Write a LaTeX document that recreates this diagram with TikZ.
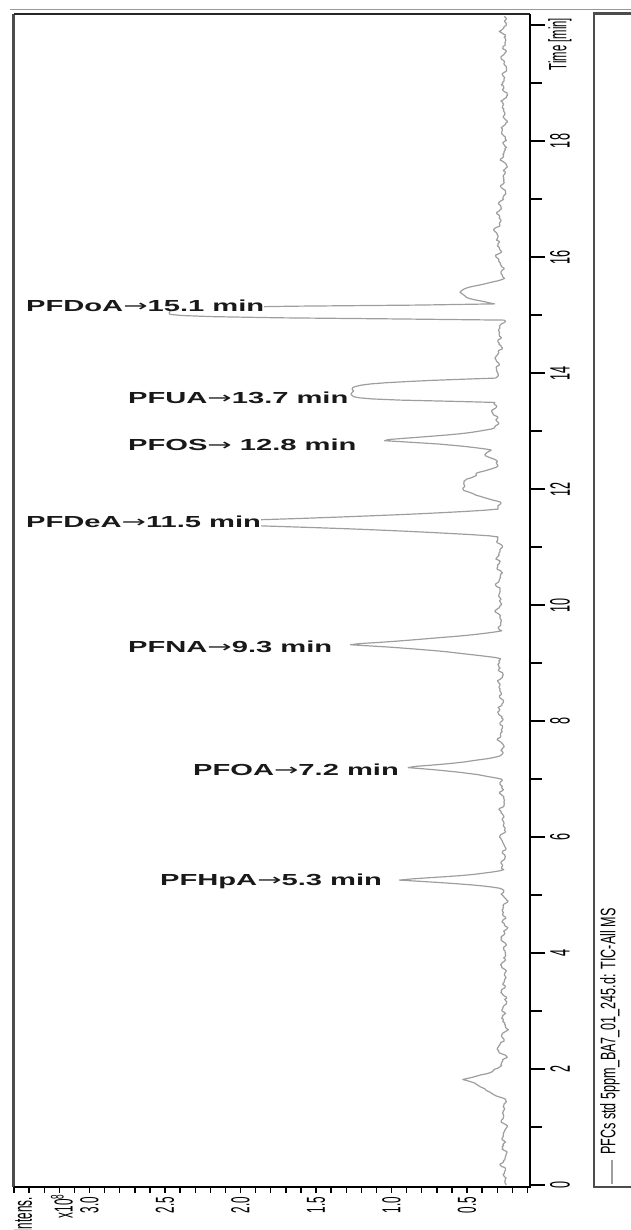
\documentclass[tikz,border=0pt]{standalone}
\usepackage{fontspec}
\setmainfont{Liberation Sans}
\newfontfamily\peakfont[FakeStretch=1.82]{Liberation Sans Bold}
\newfontfamily\arrowfont[FakeStretch=1.82]{DejaVu Sans}
\newfontfamily\axisfont[FakeStretch=0.45]{Liberation Sans}
\newfontfamily\legendfont[FakeStretch=0.6]{Liberation Sans}
\usetikzlibrary{positioning}

\newcommand{\rarr}{{\arrowfont →}}

\tikzset{
  plotframe/.style={line width=2pt, black!85},
  tickmark/.style={line width=1.4pt, black},
  timelbl/.style={rotate=90, inner sep=0pt, font=\axisfont\fontsize{28}{28}\selectfont},
  intlbl/.style={rotate=90, inner sep=0pt, font=\axisfont\fontsize{26}{26}\selectfont},
  peaklbl/.style={anchor=base west, inner sep=0pt, fill=white, text=black!90,
    font=\peakfont\fontsize{16}{16}\selectfont},
  trace/.style={draw=black!38, line width=1.2pt, line join=round},
}

\begin{document}
\begin{tikzpicture}[x=1pt, y=-1pt,
  declare function={
    nd(\s,\pos,\wl,\wr)=max((\pos-\s)/\wl,(\s-\pos)/\wr);
    sharp(\s,\pos,\wl,\wr,\amp)=\amp*max(0,1-nd(\s,\pos,\wl,\wr))*(1+max(0,1-nd(\s,\pos,\wl,\wr)))/2;
    blunt(\s,\pos,\wl,\wr,\amp)=\amp*max(0,1-min(nd(\s,\pos,\wl,\wr),1.5)^4);
    hump(\s,\pos,\wl,\amp)=\amp*(max(0,1-min(abs(\s-\pos)/\wl,1.5)^2))^2;
    noise(\s)=1.5*sin(360*mod(2.3*\s,1))+1.3*sin(360*mod(4.1*\s,1)+70)+1.0*sin(360*mod(6.7*\s,1)+150)+0.6*sin(360*mod(10.9*\s,1)+20)+0.7*rand;
  }]
\pgfmathsetseed{7}
\useasboundingbox (0,0) rectangle (631,1230);

% window edge and legend box
\draw[line width=1.5pt, black!40] (10,9.5) -- (631,9.5);
\draw[line width=2.5pt, black!70] (640,13.5) -- (594,13.5) -- (594,1187) -- (640,1187);

% plot frame
\coordinate (tl) at (13.5,14);
\coordinate (bl) at (13.5,1187);
\coordinate (br) at (530,1187);
\coordinate (tr) at (530,14);
\draw[line width=3pt, black!70] (tl) -- (bl);
\draw[plotframe] (tl) -- (tr);
\draw[plotframe, black] (bl) -- (br) -- (tr);

% time axis (right)
\foreach \m in {0,2,...,20}
  \draw[tickmark] (530,{1185-58*\m}) -- ++(15,0);
\foreach \m in {1,3,...,19}
  \draw[tickmark] (530,{1185-58*\m}) -- ++(12,0);
\foreach \m in {0,2,...,18}
  \node[timelbl] (t\m) at (560,{1185-58*\m}) {\m};
\node[timelbl, font=\axisfont\fontsize{25}{25}\selectfont] (taxis) at (560,44) {Time [min]};

% intensity axis (bottom)
\foreach \v in {1,...,35}
  \draw[tickmark] ({467-(\v/10-0.5)*151},1187) -- ++(0,6);
\foreach \v in {0.5,1.0,1.5,2.0,2.5,3.0}
  \node[intlbl] at ({467-(\v-0.5)*151},1205) {\v};
\node[intlbl, anchor=east] (intens) at (23,1197) {Intens.};
\node[intlbl, anchor=east] (scale) at (62,1194) {x10\textsuperscript{8}};

% chromatogram
\draw[trace] plot[domain=0:20.16, samples=1009, variable=\s]
  ({504+noise(\s)
    -hump(\s,11,6.5,5)-hump(\s,13.5,1.8,5)-hump(\s,16.4,0.9,6)
    -sharp(\s,1.82,0.38,0.25,41)-hump(\s,2.35,0.15,7)
    -sharp(\s,5.26,0.15,0.17,107)
    -sharp(\s,7.2,0.21,0.2,94)
    -sharp(\s,9.32,0.24,0.23,155)
    -sharp(\s,11.42,0.24,0.23,349)
    -hump(\s,12.0,0.25,35)-hump(\s,12.22,0.18,25)-hump(\s,12.62,0.15,10)
    -sharp(\s,12.84,0.17,0.2,118)
    -blunt(\s,13.64,0.14,0.27,145)
    -blunt(\s,15.05,0.13,0.13,332)
    -hump(\s,15.38,0.25,44)},
   {1185-58*\s});

% peak labels
\node[peaklbl] (pfdoa) at (26,311) {PFDoA\rarr15.1 min};
\node[peaklbl] (pfua) at (128,403) {PFUA\rarr13.7 min};
\node[peaklbl] (pfos) at (128,450) {PFOS\rarr\ 12.8 min};
\node[peaklbl] (pfdea) at (26,527) {PFDeA\rarr11.5 min};
\node[peaklbl] (pfna) at (128,652) {PFNA\rarr9.3 min};
\node[peaklbl] (pfoa) at (193,775) {PFOA\rarr7.2 min};
\node[peaklbl] (pfhpa) at (160,885) {PFHpA\rarr5.3 min};

% legend
\coordinate (swatch) at (612,1160);
\draw[trace] (swatch) -- ++(0,24);
\node[rotate=90, anchor=west, inner sep=0pt, font=\legendfont\fontsize{21}{21}\selectfont]
  (legend) at (610,1155) {PFCs std 5ppm\_BA7\_01\_245.d: TIC-All MS};
\end{tikzpicture}
\end{document}
